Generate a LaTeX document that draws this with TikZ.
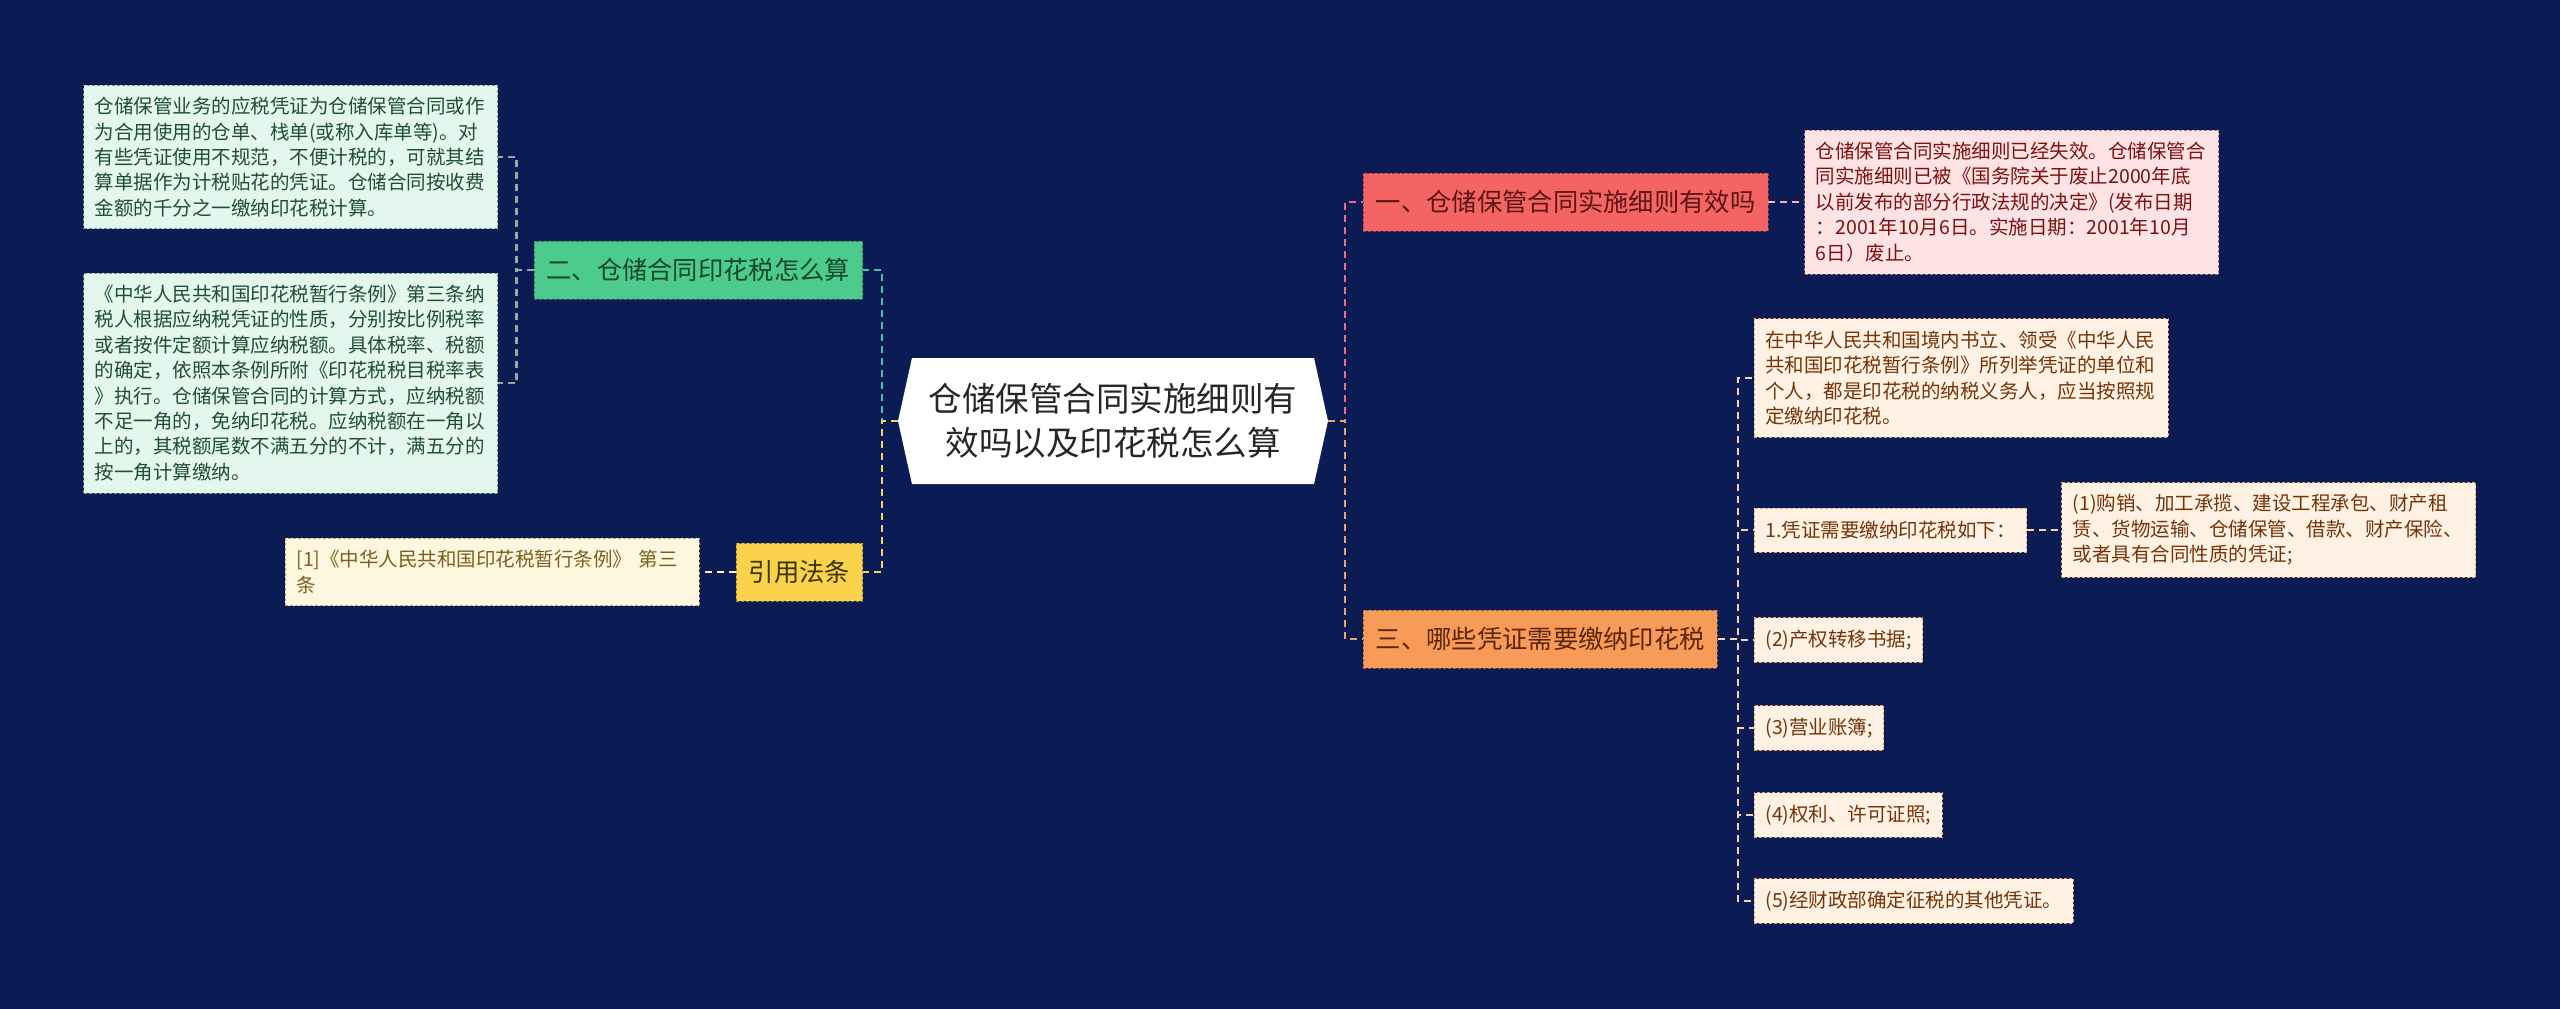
\documentclass[tikz,border=0pt]{standalone}
\usepackage{fontspec}
\setmainfont{Noto Sans CJK SC}
\usetikzlibrary{positioning,shapes.symbols}

\definecolor{bgc}{HTML}{0B1B53}
% branch colours
\definecolor{redf}{HTML}{F56464}
\definecolor{redt}{HTML}{5C1515}
\definecolor{redl}{HTML}{E8707E}
\definecolor{grnf}{HTML}{4DCB8C}
\definecolor{grnt}{HTML}{15482B}
\definecolor{grnl}{HTML}{4CC3A0}
\definecolor{ylwf}{HTML}{FAD24C}
\definecolor{ylwt}{HTML}{3B3200}
\definecolor{ylwl}{HTML}{F2D35B}
\definecolor{orgf}{HTML}{F89A58}
\definecolor{orgt}{HTML}{5A2608}
\definecolor{orgl}{HTML}{F0A36A}

\begin{document}
\begin{tikzpicture}[
  x=1pt, y=-1pt,
  hub/.style={shape=signal, signal to=west and east, signal pointer angle=155,
    fill=white, minimum width=430pt, minimum height=126pt, align=center,
    text=black!85, font=\fontsize{33.5}{44}\selectfont},
  topic/.style={draw, dash pattern=on 3pt off 2pt, line width=0.9pt, inner xsep=12.5pt,
    inner ysep=0pt, minimum height=58pt, font=\fontsize{25.3}{30}\selectfont},
  note/.style={draw, dash pattern=on 3pt off 2pt, line width=0.9pt, align=left,
    inner xsep=11pt, inner ysep=12pt, font=\fontsize{19.5}{25.4}\selectfont},
  wide/.style={note, text width=392pt},
  item/.style={note, minimum height=44pt, fill=orange!10!white, draw=orange!40!brown!70, text=orgt!85!orange},
  lnk/.style={line width=2.4pt, dash pattern=on 7pt off 5pt}
]
\useasboundingbox (0,0) rectangle (2560,1009);
\fill[bgc] (0,0) rectangle (2560,1009);

\node[hub] (main) at (1113,421) {仓储保管合同实施细则有\\效吗以及印花税怎么算};

% left side
\node[topic, fill=grnf, draw=grnf!60!black, text=grnt, anchor=east] (calc) at (863,270) {二、仓储合同印花税怎么算};
\node[topic, fill=ylwf, draw=ylwf!60!black, text=ylwt, anchor=east] (law) at (863,572) {引用法条};
\node[wide, fill=grnf!15!white, draw=grnf!40!gray, text=grnt!90!gray, anchor=east] (calcNoteA) at (498,157)
  {仓储保管业务的应税凭证为仓储保管合同或作\\为合用使用的仓单、栈单(或称入库单等)。对\\有些凭证使用不规范，不便计税的，可就其结\\算单据作为计税贴花的凭证。仓储合同按收费\\金额的千分之一缴纳印花税计算。};
\node[wide, fill=grnf!15!white, draw=grnf!40!gray, text=grnt!90!gray, anchor=east] (calcNoteB) at (498,383)
  {《中华人民共和国印花税暂行条例》第三条纳\\税人根据应纳税凭证的性质，分别按比例税率\\或者按件定额计算应纳税额。具体税率、税额\\的确定，依照本条例所附《印花税税目税率表\\》执行。仓储保管合同的计算方式，应纳税额\\不足一角的，免纳印花税。应纳税额在一角以\\上的，其税额尾数不满五分的不计，满五分的\\按一角计算缴纳。};
\node[wide, fill=ylwf!18!white, draw=ylwf!50!gray, text={rgb,255:red,122;green,96;blue,28}, left=36pt of law] (lawNote)
  {[1]《中华人民共和国印花税暂行条例》 第三\\条};

% right side
\node[topic, fill=redf, draw=redf!60!black, text=redt, anchor=west] (valid) at (1363,202) {一、仓储保管合同实施细则有效吗};
\node[topic, fill=orgf, draw=orgf!60!black, text=orgt, anchor=west] (cert) at (1363,639) {三、哪些凭证需要缴纳印花税};
\node[wide, fill=redf!18!white, draw=redf!45!gray, text=redt!80!red, right=36pt of valid] (validNote)
  {仓储保管合同实施细则已经失效。仓储保管合\\同实施细则已被《国务院关于废止2000年底\\以前发布的部分行政法规的决定》(发布日期\\：2001年10月6日。实施日期：2001年10月\\6日）废止。};
\node[item, text width=392pt, anchor=west] (certWho) at (1754,378)
  {在中华人民共和国境内书立、领受《中华人民\\共和国印花税暂行条例》所列举凭证的单位和\\个人，都是印花税的纳税义务人，应当按照规\\定缴纳印花税。};
\node[item, anchor=west] (certList) at (1754,530) {1.凭证需要缴纳印花税如下：};
\node[item, text width=392pt, right=34pt of certList] (certOne)
  {(1)购销、加工承揽、建设工程承包、财产租\\赁、货物运输、仓储保管、借款、财产保险、\\或者具有合同性质的凭证;};
\node[item, anchor=west] (certTwo) at (1754,640) {(2)产权转移书据;};
\node[item, anchor=west] (certThree) at (1754,728) {(3)营业账簿;};
\node[item, anchor=west] (certFour) at (1754,815) {(4)权利、许可证照;};
\node[item, anchor=west] (certFive) at (1754,901) {(5)经财政部确定征税的其他凭证。};

% connectors
\draw[lnk, grnl] (main.west) -- ++(-16,0) |- (calc.east);
\draw[lnk, ylwl] (main.west) -- ++(-16,0) |- (law.east);
\draw[lnk, grnf!35!gray!80!white] (calc.west) -- ++(-17,0) |- (calcNoteA.east);
\draw[lnk, grnf!35!gray!80!white] (calc.west) -- ++(-17,0) |- (calcNoteB.east);
\draw[lnk, ylwf!30!white] (law) -- (lawNote);
\draw[lnk, redl] (main.east) -- ++(17,0) |- (valid.west);
\draw[lnk, orgl] (main.east) -- ++(17,0) |- (cert.west);
\draw[lnk, redf!50!white] (valid) -- (validNote);
\foreach \c in {certWho,certList,certTwo,certThree,certFour,certFive}
  \draw[lnk, orgf!45!white] (cert.east) -- ++(20,0) |- (\c.west);
\draw[lnk, orgf!45!white] (certList) -- (certOne);
\end{tikzpicture}
\end{document}
